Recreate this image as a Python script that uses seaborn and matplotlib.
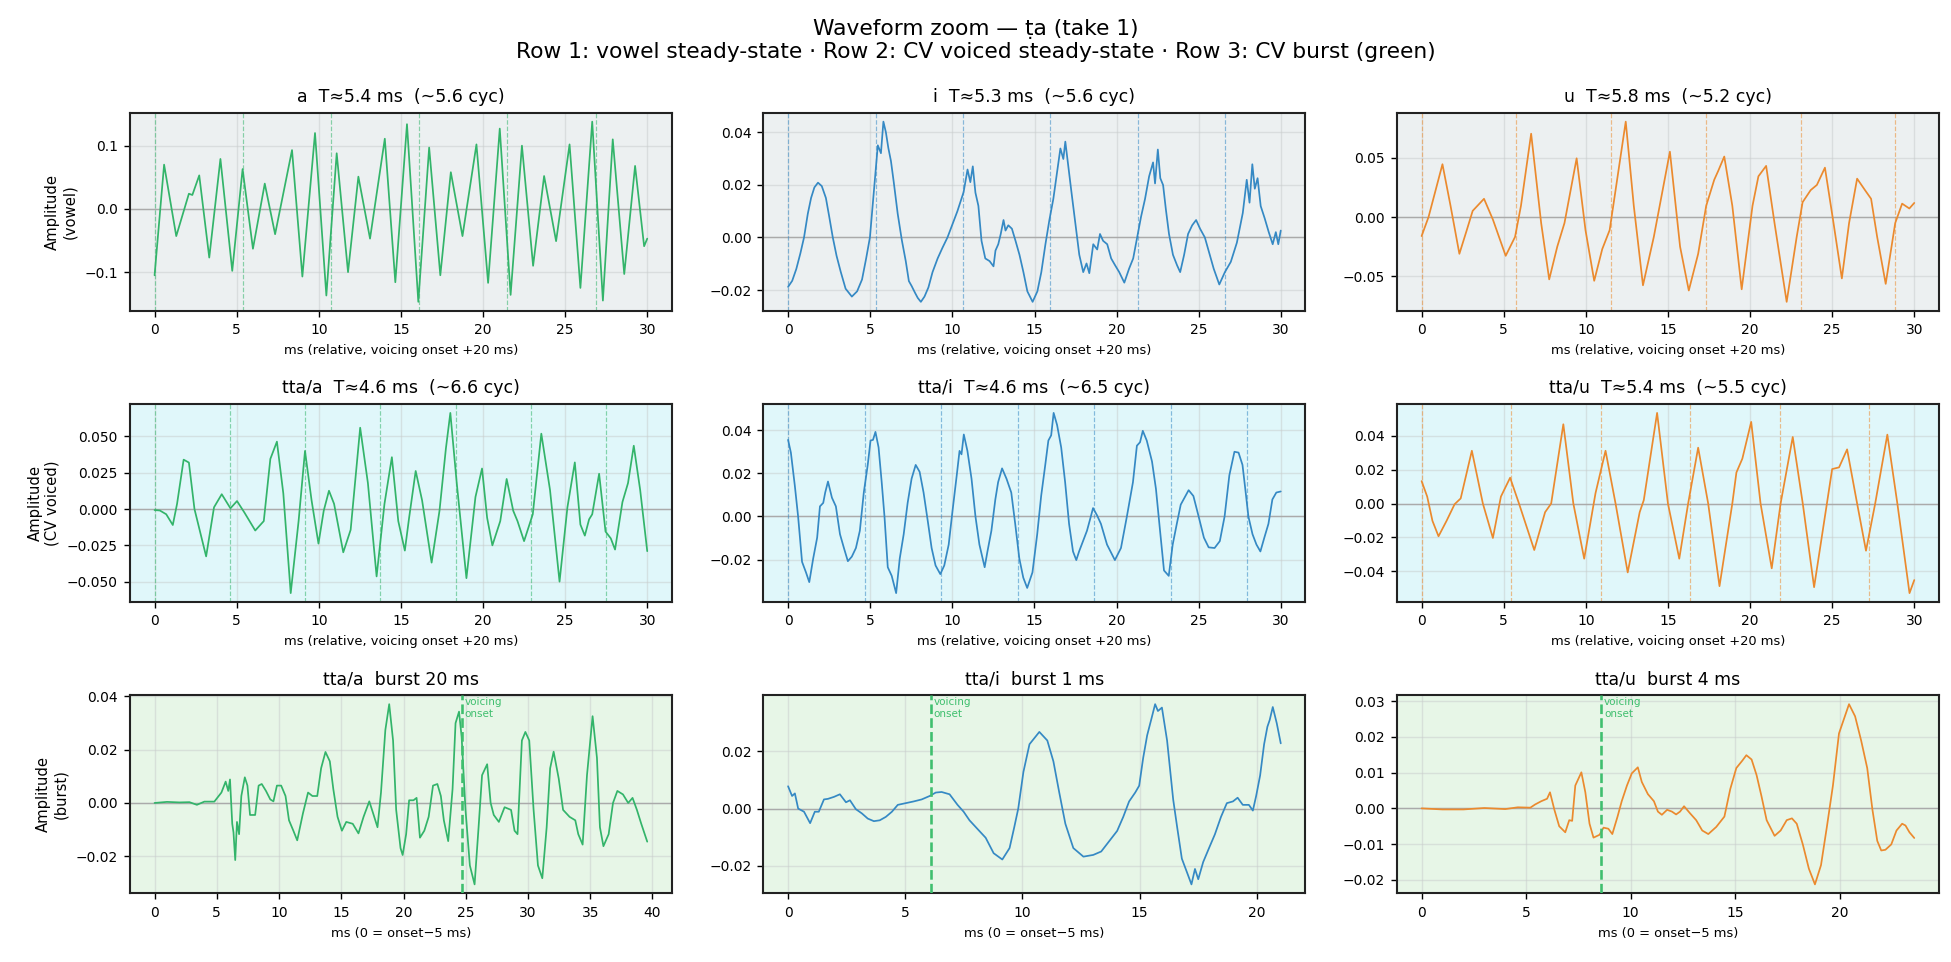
import matplotlib
matplotlib.use("Agg")
import matplotlib.pyplot as plt
from matplotlib.ticker import MultipleLocator
import pandas as pd
import seaborn as sns

# ---- data (time in ms, amplitude) ----
a_pts = [(0, -0.105), (0.58, 0.070), (1.32, -0.043), (2.09, 0.024), (2.3, 0.022), (2.72, 0.053),
         (3.33, -0.077), (4.01, 0.079), (4.73, -0.098), (5.36, 0.063), (5.99, -0.063), (6.71, 0.040),
         (7.34, -0.040), (8.37, 0.093), (9.0, -0.107), (9.77, 0.120), (10.46, -0.137), (11.09, 0.088),
         (11.78, -0.100), (12.41, 0.051), (13.12, -0.047), (14.02, 0.111), (14.66, -0.116), (15.37, 0.134),
         (16.06, -0.147), (16.72, 0.097), (17.40, -0.105), (18.04, 0.058), (18.75, -0.043), (19.6, 0.102),
         (20.31, -0.117), (21.02, 0.127), (21.68, -0.136), (22.37, 0.100), (23.05, -0.090), (23.72, 0.052),
         (24.45, -0.051), (25.27, 0.102), (25.93, -0.125), (26.65, 0.138), (27.3, -0.145), (27.9, 0.110),
         (28.6, -0.103), (29.26, 0.068), (29.81, -0.059), (30.0, -0.047)]

i_pts = [(0, -0.0188), (0.25, -0.0165), (0.5, -0.012), (0.75, -0.006), (0.97, 0.0), (1.2, 0.009), (1.4, 0.015),
         (1.6, 0.019), (1.82, 0.0208), (2.05, 0.0195), (2.3, 0.015), (2.5, 0.008), (2.72, 0.0), (2.95, -0.007),
         (3.2, -0.013), (3.5, -0.0195), (3.88, -0.0225), (4.2, -0.0205), (4.5, -0.016), (4.75, -0.008),
         (4.98, 0.0), (5.46, 0.035), (5.65, 0.032), (5.8, 0.044), (5.95, 0.040), (6.1, 0.034), (6.26, 0.029),
         (6.43, 0.021), (6.67, 0.009), (6.92, -0.001), (7.16, -0.009), (7.35, -0.0166), (7.52, -0.0185),
         (7.72, -0.021), (7.89, -0.023), (8.08, -0.0245), (8.3, -0.0225), (8.54, -0.019), (8.79, -0.0132),
         (9.1, -0.008), (9.39, -0.004), (9.7, 0.0), (10.02, 0.0053), (10.3, 0.0099), (10.68, 0.0172),
         (10.92, 0.0258), (11.09, 0.021), (11.24, 0.027), (11.4, 0.017), (11.58, 0.012), (11.77, -0.0013),
         (12.0, -0.008), (12.26, -0.009), (12.5, -0.011), (12.62, -0.005), (12.79, -0.0026), (12.94, 0.0013),
         (13.11, 0.0066), (13.23, 0.0026), (13.4, 0.0046), (13.62, 0.0033), (13.84, -0.0013), (14.08, -0.0066),
         (14.32, -0.0132), (14.56, -0.0205), (14.88, -0.0245), (15.17, -0.0205), (15.41, -0.0132),
         (15.66, -0.0026), (15.9, 0.0066), (16.14, 0.0146), (16.38, 0.0252), (16.57, 0.0338), (16.75, 0.0298),
         (16.87, 0.0364), (17.06, 0.0265), (17.23, 0.0179), (17.48, 0.0053), (17.72, -0.0066), (17.96, -0.0132),
         (18.16, -0.0099), (18.33, -0.0136), (18.57, -0.0026), (18.81, -0.0046), (18.98, 0.0013),
         (19.17, -0.0013), (19.42, -0.0026), (19.66, -0.008), (19.9, -0.0106), (20.15, -0.0132),
         (20.46, -0.0172), (20.75, -0.0119), (21.0, -0.008), (21.24, 0.0), (21.48, 0.0079), (21.72, 0.0146),
         (21.97, 0.0232), (22.21, 0.0285), (22.33, 0.0205), (22.5, 0.0334), (22.65, 0.0225), (22.82, 0.0199),
         (22.99, 0.0106), (23.18, 0.0013), (23.42, -0.0066), (23.67, -0.0106), (23.86, -0.0132), (24.1, -0.0066),
         (24.34, 0.0013), (24.59, 0.0046), (24.83, 0.0066), (25.07, 0.0033), (25.36, 0.0), (25.6, -0.0053),
         (25.9, -0.0119), (26.24, -0.0179), (26.58, -0.0132), (26.94, -0.0093), (27.31, -0.002), (27.67, 0.0093),
         (27.91, 0.0219), (28.08, 0.0132), (28.25, 0.0278), (28.4, 0.0185), (28.57, 0.0225), (28.76, 0.0119),
         (29.0, 0.0073), (29.25, 0.002), (29.49, -0.0026), (29.68, 0.002), (29.83, -0.0026), (29.98, 0.0026)]

u_pts = [(0, -0.016), (0.42, 0.0), (0.66, 0.0126), (1.27, 0.0447), (1.76, 0.0097), (2.3, -0.031), (2.75, -0.011),
         (3.11, 0.0053), (3.8, 0.0155), (4.34, -0.002), (5.12, -0.0327), (5.69, -0.0167), (6.05, 0.0096),
         (6.67, 0.0705), (7.28, -0.005), (7.77, -0.0526), (8.26, -0.025), (8.7, -0.005), (9.44, 0.0497),
         (9.98, -0.011), (10.51, -0.0538), (11.0, -0.027), (11.45, -0.011), (12.43, 0.0807), (12.92, 0.0096),
         (13.48, -0.0576), (14.14, -0.0167), (15.12, 0.0553), (15.74, -0.025), (16.27, -0.062), (16.84, -0.031),
         (17.33, 0.0096), (17.82, 0.0316), (18.06, 0.039), (18.43, 0.0512), (18.92, 0.0096), (19.49, -0.061),
         (20.15, 0.0096), (20.51, 0.0345), (20.98, 0.0433), (21.49, -0.005), (22.23, -0.0716), (22.84, -0.0167),
         (23.2, 0.0126), (23.69, 0.0228), (24.07, 0.0272), (24.56, 0.0418), (25.05, -0.002), (25.59, -0.0518),
         (26.03, -0.005), (26.52, 0.0325), (27.0, 0.0228), (27.37, 0.0155), (27.74, -0.0167), (28.26, -0.0564),
         (28.84, -0.005), (29.26, 0.0114), (29.7, 0.0073), (30.0, 0.012)]

tta_a_pts = [(0, -0.0007), (0.32, -0.001), (0.71, -0.0036), (1.11, -0.011), (1.37, 0.0036), (1.77, 0.034),
             (2.09, 0.032), (2.43, 0.0), (3.14, -0.0326), (3.62, 0.0012), (4.09, 0.0102), (4.62, 0.0005),
             (5.02, 0.0055), (5.47, -0.0024), (6.13, -0.0148), (6.65, -0.0083), (7.05, 0.0345), (7.45, 0.0464),
             (7.84, 0.0107), (8.29, -0.0579), (8.77, -0.0083), (9.16, 0.040), (9.56, 0.006), (9.98, -0.0238),
             (10.3, -0.0012), (10.62, 0.0126), (10.93, 0.0036), (11.49, -0.0298), (11.94, -0.0143), (12.52, 0.056),
             (12.99, 0.0179), (13.52, -0.0464), (14.0, 0.0036), (14.45, 0.0357), (14.84, -0.0083), (15.24, -0.0286),
             (15.5, -0.006), (15.9, 0.0262), (16.29, 0.006), (16.87, -0.0369), (17.35, -0.0012), (17.74, 0.0417),
             (18.01, 0.0662), (18.4, 0.0179), (18.99, -0.0476), (19.54, 0.0083), (19.94, 0.0279), (20.25, -0.006),
             (20.57, -0.025), (21.05, -0.0083), (21.44, 0.0207), (21.84, -0.0012), (22.1, -0.0083), (22.5, -0.0221),
             (23.03, -0.0036), (23.55, 0.0519), (24.08, 0.0131), (24.66, -0.050), (25.14, 0.0012), (25.59, 0.0321),
             (25.93, -0.0107), (26.2, -0.0183), (26.46, -0.0071), (26.65, -0.0036), (27.07, 0.0243),
             (27.46, -0.0155), (27.78, -0.0202), (28.04, -0.0279), (28.49, 0.0048), (28.83, 0.0179),
             (29.18, 0.0436), (29.57, 0.0131), (30.0, -0.029)]

tta_i_pts = [(0, 0.0355), (0.17, 0.0296), (0.41, 0.0143), (0.61, 0.0), (0.85, -0.021), (1.09, -0.0259),
             (1.29, -0.0304), (1.53, -0.0194), (1.77, -0.0098), (1.94, 0.0047), (2.14, 0.0063), (2.26, 0.0111),
             (2.43, 0.0162), (2.67, 0.0087), (2.91, 0.0047), (3.16, -0.0082), (3.4, -0.0146), (3.64, -0.0207),
             (3.88, -0.0186), (4.13, -0.0146), (4.37, -0.0066), (4.61, 0.0111), (4.85, 0.0239), (5.02, 0.0352),
             (5.17, 0.0355), (5.32, 0.0392), (5.51, 0.032), (5.7, 0.0159), (5.87, 0.0), (6.07, -0.0235),
             (6.31, -0.0275), (6.58, -0.0355), (6.8, -0.0194), (7.04, -0.0082), (7.28, 0.0063), (7.52, 0.0175),
             (7.77, 0.0239), (8.01, 0.0207), (8.25, 0.0111), (8.5, -0.0018), (8.74, -0.0146), (8.98, -0.0227),
             (9.27, -0.0267), (9.51, -0.0227), (9.78, -0.013), (10.02, 0.0031), (10.27, 0.0191), (10.44, 0.0304),
             (10.56, 0.0288), (10.7, 0.038), (10.92, 0.0304), (11.17, 0.0175), (11.41, 0.0), (11.65, -0.013),
             (11.97, -0.0235), (12.14, -0.0162), (12.38, -0.0066), (12.62, 0.0079), (12.79, 0.0159), (13.03, 0.0223),
             (13.3, 0.0175), (13.59, 0.0111), (13.83, -0.0034), (14.08, -0.0194), (14.32, -0.0283), (14.56, -0.0331),
             (14.88, -0.0259), (15.17, -0.0082), (15.41, 0.0095), (15.66, 0.0239), (15.85, 0.0352), (16.02, 0.0376),
             (16.17, 0.048), (16.38, 0.0424), (16.63, 0.032), (16.87, 0.0159), (17.11, -0.0034), (17.35, -0.0162),
             (17.55, -0.0202), (17.72, -0.0162), (17.96, -0.0114), (18.2, -0.0066), (18.4, -0.001), (18.57, 0.0039),
             (18.81, 0.0006), (19.05, -0.0034), (19.42, -0.013), (19.9, -0.0202), (20.27, -0.0146), (20.63, 0.0),
             (21.0, 0.0159), (21.24, 0.0328), (21.43, 0.0344), (21.6, 0.0397), (21.84, 0.0352), (22.16, 0.0255),
             (22.4, 0.0128), (22.65, -0.0066), (22.89, -0.025), (23.18, -0.0275), (23.42, -0.013), (23.67, -0.0034),
             (23.91, 0.0055), (24.39, 0.0122), (24.68, 0.0095), (25.0, 0.0), (25.32, -0.0098), (25.61, -0.0143),
             (25.97, -0.0146), (26.29, -0.0114), (26.58, 0.0), (26.87, 0.0191), (27.18, 0.030), (27.43, 0.0296),
             (27.67, 0.0239), (27.84, 0.0128), (28.03, 0.0), (28.28, -0.0082), (28.52, -0.013), (28.76, -0.0162),
             (29.0, -0.0098), (29.25, -0.0034), (29.49, 0.0079), (29.73, 0.0111), (30.0, 0.0116)]

tta_u_pts = [(0, 0.0132), (0.34, 0.0041), (0.66, -0.0102), (1.03, -0.0193), (1.52, -0.0102), (2.01, -0.0004),
             (2.38, 0.003), (3.06, 0.0311), (3.73, 0.0), (4.34, -0.0203), (4.83, 0.0041), (5.39, 0.0152),
             (5.93, 0.0), (6.86, -0.0274), (7.52, -0.0051), (7.89, 0.0), (8.63, 0.0467), (9.24, 0.0),
             (9.9, -0.0325), (10.59, 0.0061), (11.2, 0.0311), (11.81, 0.0), (12.55, -0.0406), (13.28, -0.0051),
             (13.53, 0.002), (14.34, 0.0534), (15.0, 0.0), (15.69, -0.0325), (16.23, 0.0), (16.84, 0.0329),
             (17.45, 0.0), (18.14, -0.0487), (18.92, 0.0), (19.17, 0.0183), (19.53, 0.0264), (20.07, 0.0481),
             (20.64, 0.0), (21.32, -0.0382), (21.86, 0.0), (22.6, 0.0392), (23.21, 0.0), (23.9, -0.0493),
             (24.68, 0.0), (25.0, 0.0203), (25.42, 0.0213), (25.91, 0.0319), (26.52, 0.0), (27.06, -0.0278),
             (27.62, 0.0), (28.36, 0.0406), (28.97, 0.0), (29.71, -0.0528), (30.0, -0.0451)]

burst_a_pts = [(0, 0.0), (1, 0.0004), (2, 0.0002), (2.8, 0.0003), (3.4, -0.0007), (4, 0.0005), (4.8, 0.0005),
               (5.37, 0.0039), (5.71, 0.008), (5.92, 0.0045), (6.06, 0.0088), (6.24, -0.0078), (6.34, -0.011),
               (6.48, -0.0214), (6.62, -0.0071), (6.79, -0.0117), (6.97, 0.0026), (7.25, 0.0096), (7.46, 0.0065),
               (7.67, -0.0045), (8.08, -0.0045), (8.36, 0.0065), (8.61, 0.0071), (8.95, 0.0045), (9.3, 0.0013),
               (9.55, 0.0006), (9.83, 0.0065), (10.17, 0.0065), (10.52, 0.0026), (10.8, -0.0065), (11.15, -0.0104),
               (11.46, -0.014), (11.92, -0.0039), (12.33, 0.0039), (12.68, 0.0026), (13.07, 0.0026), (13.38, 0.013),
               (13.73, 0.0191), (14.08, 0.0156), (14.36, 0.0052), (14.7, -0.0052), (15.05, -0.0104),
               (15.4, -0.0071), (15.92, -0.0078), (16.38, -0.0114), (16.79, -0.0052), (17.25, 0.0006),
               (17.56, -0.0039), (17.91, -0.0091), (18.19, 0.0039), (18.54, 0.0273), (18.85, 0.037),
               (19.16, 0.0234), (19.41, -0.0026), (19.76, -0.0169), (19.93, -0.0195), (20.21, -0.0117),
               (20.45, 0.001), (20.8, 0.001), (21.05, 0.0019), (21.32, -0.013), (21.67, -0.0104), (22.02, -0.0052),
               (22.37, 0.0065), (22.72, 0.0071), (23.0, 0.0026), (23.24, -0.0065), (23.59, -0.0143), (23.94, 0.0052),
               (24.18, 0.0299), (24.46, 0.0342), (24.67, 0.0247), (24.98, -0.0026), (25.33, -0.0234),
               (25.71, -0.0305), (26.03, -0.0091), (26.31, 0.0104), (26.72, 0.0145), (27.0, 0.0), (27.25, -0.0045),
               (27.66, -0.0071), (28.12, -0.0016), (28.64, -0.0026), (28.92, -0.0104), (29.16, -0.0117),
               (29.51, 0.0234), (29.79, 0.0266), (30.1, 0.0234), (30.45, -0.0026), (30.8, -0.0234),
               (31.15, -0.0282), (31.5, -0.0091), (31.78, 0.013), (32.06, 0.0192), (32.47, 0.0091),
               (32.82, -0.0026), (33.34, -0.0052), (33.8, -0.0065), (34.04, -0.0117), (34.39, -0.0156),
               (34.74, 0.0104), (35.19, 0.0325), (35.54, 0.0169), (35.78, -0.0091), (36.06, -0.0162),
               (36.48, -0.0117), (36.83, 0.0), (37.18, 0.0045), (37.63, 0.0032), (38.05, 0.0), (38.4, 0.0019),
               (38.75, -0.0026), (39.1, -0.0078), (39.58, -0.0145)]

burst_i_pts = [(0, 0.0078), (0.17, 0.0044), (0.29, 0.0053), (0.43, 0.0), (0.68, -0.0011), (0.94, -0.0051),
               (1.14, -0.0011), (1.31, -0.0011), (1.53, 0.0032), (1.7, 0.0034), (1.96, 0.0041), (2.21, 0.005),
               (2.47, 0.0022), (2.64, 0.0029), (2.89, -0.0002), (3.15, -0.0017), (3.4, -0.0035), (3.66, -0.0044),
               (3.91, -0.0041), (4.17, -0.0029), (4.43, -0.0011), (4.68, 0.0013), (5.02, 0.0019), (5.36, 0.0025),
               (5.7, 0.0032), (6.04, 0.0044), (6.3, 0.0056), (6.55, 0.0058), (6.89, 0.005), (7.23, 0.0013),
               (7.49, -0.0011), (7.74, -0.0041), (8.09, -0.0072), (8.43, -0.0102), (8.77, -0.0156), (9.14, -0.0178),
               (9.45, -0.0138), (9.65, -0.0065), (9.82, 0.0), (10.04, 0.0128), (10.3, 0.0225), (10.72, 0.0268),
               (11.06, 0.0238), (11.32, 0.0165), (11.57, 0.0056), (11.83, -0.0053), (12.17, -0.0138),
               (12.6, -0.0168), (13.02, -0.0162), (13.36, -0.015), (13.7, -0.0114), (14.04, -0.0078),
               (14.3, -0.0029), (14.55, 0.0025), (14.81, 0.0056), (14.98, 0.008), (15.15, 0.0177), (15.32, 0.0256),
               (15.49, 0.031), (15.66, 0.0365), (15.78, 0.0341), (15.95, 0.0353), (16.17, 0.0238), (16.43, 0.0032),
               (16.6, -0.0065), (16.8, -0.0175), (17.02, -0.0223), (17.21, -0.0265), (17.36, -0.0211),
               (17.5, -0.0247), (17.71, -0.0187), (17.96, -0.0138), (18.21, -0.009), (18.47, -0.0029),
               (18.72, 0.0019), (18.98, 0.0025), (19.18, 0.0038), (19.4, 0.0013), (19.66, 0.0013), (19.83, -0.0007),
               (19.97, 0.0044), (20.14, 0.0116), (20.31, 0.0225), (20.45, 0.0286), (20.55, 0.031), (20.68, 0.0355),
               (20.85, 0.0298), (21.02, 0.0228)]

burst_u_pts = [(0, 0.0), (1, -0.0003), (2, -0.0003), (3, 0.0001), (4, -0.0002), (4.6, 0.0003), (5.2, 0.0002),
               (5.43, 0.0011), (5.72, 0.002), (6.0, 0.0027), (6.14, 0.0045), (6.35, -0.0004), (6.58, -0.005),
               (6.87, -0.0067), (7.06, -0.0033), (7.2, -0.0035), (7.35, 0.0064), (7.64, 0.0101), (7.83, 0.0045),
               (8.03, -0.0043), (8.22, -0.0082), (8.51, -0.0074), (8.7, -0.0054), (8.93, -0.0057), (9.12, -0.0072),
               (9.37, -0.0023), (9.57, 0.002), (9.82, 0.0064), (10.05, 0.0098), (10.34, 0.0115), (10.53, 0.0074),
               (10.82, 0.004), (11.11, 0.002), (11.3, -0.0009), (11.49, -0.0018), (11.74, -0.0004), (11.97, -0.0009),
               (12.17, -0.0017), (12.36, -0.0009), (12.55, 0.0006), (12.84, -0.0014), (13.13, -0.0033),
               (13.42, -0.0062), (13.71, -0.0072), (14.09, -0.0052), (14.48, -0.0023), (14.76, 0.0054),
               (15.05, 0.0113), (15.34, 0.0134), (15.53, 0.0149), (15.78, 0.0137), (16.02, 0.0093), (16.25, 0.0035),
               (16.5, -0.0033), (16.88, -0.0077), (17.17, -0.0062), (17.46, -0.0033), (17.71, -0.0028),
               (17.94, -0.0043), (18.23, -0.0101), (18.52, -0.0169), (18.81, -0.0213), (19.1, -0.0159),
               (19.38, -0.0052), (19.67, 0.0064), (19.96, 0.021), (20.44, 0.0292), (20.73, 0.0258), (21.02, 0.019),
               (21.31, 0.0113), (21.56, -0.0004), (21.79, -0.0091), (21.98, -0.0118), (22.18, -0.0116),
               (22.46, -0.0101), (22.71, -0.0062), (22.98, -0.0043), (23.14, -0.0048), (23.33, -0.0067),
               (23.56, -0.0083)]

steady_titles = ["a  T≈5.4 ms  (~5.6 cyc)", "i  T≈5.3 ms  (~5.6 cyc)", "u  T≈5.8 ms  (~5.2 cyc)",
                 "tta/a  T≈4.6 ms  (~6.6 cyc)", "tta/i  T≈4.6 ms  (~6.5 cyc)", "tta/u  T≈5.4 ms  (~5.5 cyc)"]
steady_periods = [5.37, 5.32, 5.77, 4.585, 4.66, 5.45]
burst_titles = ["tta/a  burst 20 ms", "tta/i  burst 1 ms", "tta/u  burst 4 ms"]
burst_onsets = [24.67, 6.09, 8.59]
row_labels = ["Amplitude\n(vowel)", "Amplitude\n(CV voiced)", "Amplitude\n(burst)"]
ytick_steps = [0.1, 0.02, 0.05, 0.025, 0.02, 0.02, 0.02, 0.02, 0.01]

vowel_colors = ["#33b46a", "#3589c4", "#eb8a2e"]
row_bg = ["#ecf0f1", "#e0f7fa", "#e7f6e7"]
onset_color = "#3fbf6e"

sns.set_theme(style="ticks")
plt.rcParams["font.family"] = ["DejaVu Sans"]
for key in ["text.color", "axes.labelcolor", "xtick.color", "ytick.color"]:
    plt.rcParams[key] = "black"

fig, axes = plt.subplots(3, 3, figsize=(15.608, 7.696), dpi=125)

steady = [a_pts, i_pts, u_pts, tta_a_pts, tta_i_pts, tta_u_pts]
bursts = [burst_a_pts, burst_i_pts, burst_u_pts]

for k, pts in enumerate(steady):
    r, c = divmod(k, 3)
    ax = axes[r, c]
    col = vowel_colors[c]
    df = pd.DataFrame(pts, columns=["t", "y"])
    ax.set_facecolor(row_bg[r])
    ax.grid(True, color="#c8cccc", alpha=0.5, lw=0.8)
    ax.axhline(0, color="#aaaaaa", lw=0.8, zorder=1)
    T = steady_periods[k]
    n = 0
    while n * T <= 30:
        ax.axvline(n * T, color=col, ls="--", lw=0.7, alpha=0.55, zorder=1)
        n += 1
    sns.lineplot(data=df, x="t", y="y", ax=ax, color=col, lw=1.0, sort=False, estimator=None, zorder=3)
    ax.set_title(steady_titles[k], fontsize=10)
    ax.set_xlabel("ms (relative, voicing onset +20 ms)", fontsize=7.5)
    ax.set_ylabel(row_labels[r] if c == 0 else "", fontsize=8.5)
    ax.yaxis.set_major_locator(MultipleLocator(ytick_steps[k]))

for c, pts in enumerate(bursts):
    ax = axes[2, c]
    col = vowel_colors[c]
    df = pd.DataFrame(pts, columns=["t", "y"])
    ax.set_facecolor(row_bg[2])
    ax.grid(True, color="#c8cccc", alpha=0.5, lw=0.8)
    ax.axhline(0, color="#aaaaaa", lw=0.8, zorder=1)
    sns.lineplot(data=df, x="t", y="y", ax=ax, color=col, lw=1.0, sort=False, estimator=None, zorder=3)
    ax.axvline(burst_onsets[c], color=onset_color, ls="--", lw=1.5, zorder=4)
    ax.text(burst_onsets[c] + 0.12 * (df["t"].max() / 21), 0.99, "voicing\nonset", fontsize=6,
            color=onset_color, va="top", ha="left", transform=ax.get_xaxis_transform())
    ax.set_title(burst_titles[c], fontsize=10)
    ax.set_xlabel("ms (0 = onset\u22125 ms)", fontsize=7.5)
    ax.set_ylabel(row_labels[2] if c == 0 else "", fontsize=8.5)
    ax.yaxis.set_major_locator(MultipleLocator(ytick_steps[6 + c]))

for ax in axes.flat:
    ax.xaxis.set_major_locator(MultipleLocator(5))
    ax.tick_params(labelsize=8, length=3.5, width=0.8)
    for s in ax.spines.values():
        s.set_color("#222222")
        s.set_linewidth(1.2)

fig.suptitle("Waveform zoom \u2014 \u1e6da (take 1)\n"
             "Row 1: vowel steady-state \u00b7 Row 2: CV voiced steady-state \u00b7 Row 3: CV burst (green)",
             fontsize=12.5)
fig.tight_layout()
fig.subplots_adjust(left=0.0666, right=0.9938, wspace=0.169)
fig.savefig("out.png", dpi=125)
